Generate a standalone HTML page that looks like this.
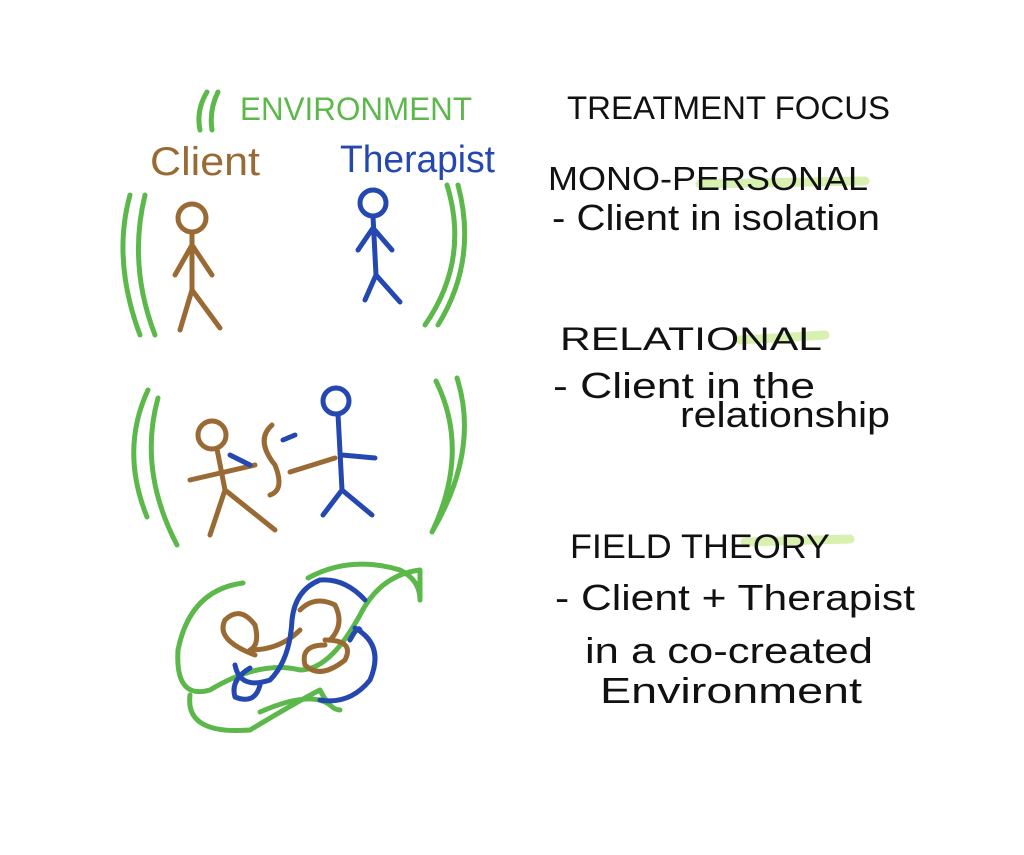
<!DOCTYPE html>
<html><head><meta charset="utf-8"><style>
html,body{margin:0;padding:0;background:#fff}
svg{display:block}
text{font-family:"Liberation Sans",sans-serif}
</style></head><body>
<svg width="1024" height="855" viewBox="0 0 1024 855" xmlns="http://www.w3.org/2000/svg">
<g stroke="#d8f0b0" stroke-width="9" fill="none" stroke-linecap="round">
<path d="M700 184 L865 181"/><path d="M740 340 L825 335"/><path d="M745 542 L850 539"/>
</g>
<g fill="none" stroke-linecap="round" stroke-linejoin="round" stroke-width="5">
<g stroke="#5cb84a">
<path d="M207 92 Q196 110 200 130"/><path d="M218 92 Q209 110 212 130"/>
<path d="M130 195 Q112 260 140 335"/><path d="M145 195 Q128 265 155 335"/>
<path d="M447 185 Q470 260 425 325"/><path d="M458 185 Q478 260 438 325"/>
<path d="M148 390 Q120 450 147 517"/><path d="M158 398 Q138 470 177 545"/>
<path d="M436 381 Q470 450 433 530"/><path d="M457 378 Q480 450 432 532"/>
<path d="M243 583 Q190 590 178 650 Q175 700 210 690 Q260 660 300 670 Q330 670 360 615 Q380 575 420 570 Q420 570 420 600"/>
<path d="M308 578 Q350 555 400 570 Q420 580 420 600"/>
<path d="M190 695 Q185 735 250 730 Q300 700 320 690 Q330 710 340 710"/>
<path d="M260 712 Q310 690 330 705"/>
</g>
<g stroke="#9a6a35">
<circle cx="192" cy="218" r="14"/>
<path d="M192 232 L192 290 M192 245 L175 275 M192 245 L212 275 M192 290 L180 330 M192 290 L220 328"/>
<circle cx="212" cy="435" r="14"/>
<path d="M217 449 L225 490 M190 480 L255 465 M225 490 L210 535 M225 490 L275 530"/>
<path d="M272 425 Q255 440 275 465 Q285 490 270 495 M290 472 L335 458"/>
<path d="M255 655 Q215 640 225 620 Q240 605 255 625 Q260 645 250 650 Q280 650 300 630"/>
<path d="M300 610 Q315 595 335 605 Q345 625 330 640 M325 640 Q355 640 345 660 Q320 680 305 665 Q300 645 325 645"/>
</g>
<g stroke="#2448b0">
<circle cx="373" cy="203" r="13"/>
<path d="M373 216 L376 275 M373 228 L358 250 M373 228 L392 250 M376 275 L365 300 M376 275 L400 302"/>
<circle cx="336" cy="401" r="13"/>
<path d="M338 414 L342 490 M342 455 L375 458 M342 490 L323 515 M342 490 L372 515 M230 455 L250 465 M283 440 L295 435"/>
<path d="M365 600 Q345 578 320 580 Q295 590 292 620 Q290 660 270 680 Q240 690 235 665"/>
<path d="M250 668 Q230 680 235 697 Q255 705 260 685"/>
<path d="M355 628 Q385 645 370 680 Q350 705 320 700"/>
<path d="M350 640 Q358 625 360 630"/>
</g>
</g>
<g font-size="32" fill="#5cb84a"><text x="240" y="120" textLength="232" lengthAdjust="spacingAndGlyphs">ENVIRONMENT</text></g>
<text x="150" y="175" font-size="40" fill="#9a6a35" textLength="110" lengthAdjust="spacingAndGlyphs">Client</text>
<text x="340" y="172" font-size="38" fill="#2448b0" textLength="155" lengthAdjust="spacingAndGlyphs">Therapist</text>
<g fill="#111">
<text x="567" y="119" font-size="32" textLength="323" lengthAdjust="spacingAndGlyphs">TREATMENT FOCUS</text>
<text x="548" y="190" font-size="33" textLength="320" lengthAdjust="spacingAndGlyphs">MONO-PERSONAL</text>
<text x="552" y="230" font-size="36" textLength="328" lengthAdjust="spacingAndGlyphs">- Client in isolation</text>
<text x="560" y="350" font-size="32" textLength="262" lengthAdjust="spacingAndGlyphs">RELATIONAL</text>
<text x="553" y="398" font-size="36" textLength="262" lengthAdjust="spacingAndGlyphs">- Client in the</text>
<text x="680" y="427" font-size="36" textLength="210" lengthAdjust="spacingAndGlyphs">relationship</text>
<text x="570" y="558" font-size="34" textLength="260" lengthAdjust="spacingAndGlyphs">FIELD THEORY</text>
<text x="555" y="610" font-size="36" textLength="360" lengthAdjust="spacingAndGlyphs">- Client + Therapist</text>
<text x="585" y="663" font-size="36" textLength="288" lengthAdjust="spacingAndGlyphs">in a co-created</text>
<text x="600" y="703" font-size="36" textLength="262" lengthAdjust="spacingAndGlyphs">Environment</text>
</g>
</svg>
</body></html>
